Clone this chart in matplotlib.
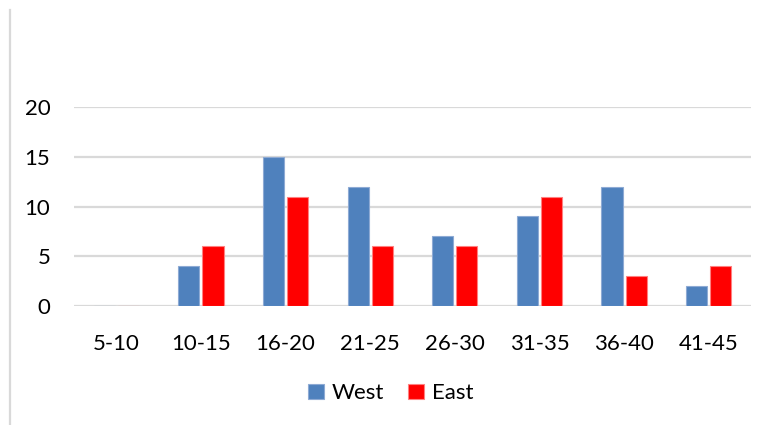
import matplotlib
matplotlib.use('Agg')
import matplotlib.pyplot as plt
from matplotlib.lines import Line2D
import numpy as np

categories = ['5-10', '10-15', '16-20', '21-25', '26-30', '31-35', '36-40', '41-45']
west = [0, 4, 15, 12, 7, 9, 12, 2]
east = [0, 6, 11, 6, 6, 11, 3, 4]

plt.rcParams['font.family'] = ['Lato', 'DejaVu Sans']

fig = plt.figure(figsize=(7.69, 4.25), dpi=100)
ax = fig.add_axes([0.0962, 0.28, 0.8804, 0.468])

x = np.arange(len(categories))
w = 0.25
gap = 0.035
ax.bar(x - (w + gap) / 2, west, w, color='#4f81bd', edgecolor='#8eaad4', linewidth=0.8, label='West', zorder=3)
ax.bar(x + (w + gap) / 2, east, w, color='#ff0000', edgecolor='#ff8080', linewidth=0.8, label='East', zorder=3)

ax.set_xlim(-0.5, len(categories) - 0.5)
ax.set_ylim(0, 20)
ax.set_yticks([0, 5, 10, 15, 20])
ax.set_xticks(x)
ax.set_xticklabels(categories)
ax.yaxis.grid(True, color='#d9d9d9', linewidth=1.6, zorder=0)
ax.set_axisbelow(True)
for s in ax.spines.values():
    s.set_visible(False)
ax.tick_params(axis='both', length=0, labelsize=16, colors='black')
ax.tick_params(axis='x', pad=20)
ax.tick_params(axis='y', pad=17)

fig.legend(loc='center', bbox_to_anchor=(0.508, 0.075), ncol=2, frameon=False,
           fontsize=16, handlelength=0.7, handleheight=0.7, handletextpad=0.35,
           columnspacing=1.1)

# grey frame edge on the left
fig.add_artist(Line2D([10 / 769, 10 / 769], [0, 1 - 10 / 425], transform=fig.transFigure,
                      color='#d9d9d9', linewidth=1.6))

fig.savefig('out.png', dpi=100)
